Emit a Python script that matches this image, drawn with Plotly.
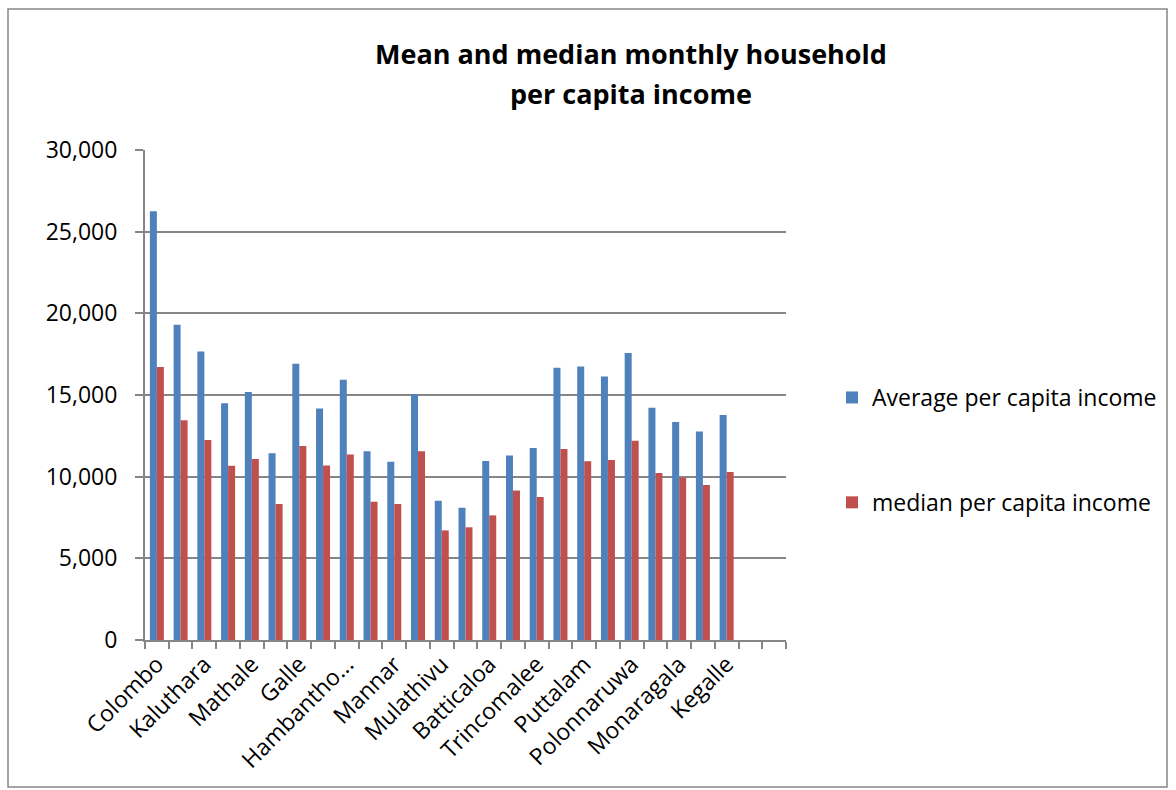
import plotly.graph_objects as go

districts = ["Colombo", "Gampaha", "Kaluthara", "Kandy", "Mathale", "Nuwara Eliya",
             "Galle", "Matara", "Hambantho...", "Jaffna", "Mannar", "Vavuniya",
             "Mulathivu", "Kilinochchi", "Batticaloa", "Ampara", "Trincomalee",
             "Kurunegala", "Puttalam", "Anuradhapura", "Polonnaruwa", "Badulla",
             "Monaragala", "Ratnapura", "Kegalle", "", ""]

average_income = [26250, 19300, 17670, 14490, 15180, 11430, 16920, 14180, 15940,
                  11550, 10920, 15060, 8530, 8100, 10960, 11290, 11760, 16670,
                  16740, 16140, 17570, 14220, 13350, 12760, 13780, None, None]

median_income = [16710, 13450, 12250, 10670, 11080, 8330, 11880, 10690, 11350,
                 8470, 8330, 11550, 6710, 6900, 7630, 9160, 8750, 11690,
                 10940, 11020, 12200, 10220, 9940, 9490, 10290, None, None]

y_ticks = [0, 5000, 10000, 15000, 20000, 25000, 30000]

BLUE = "#4F81BD"
RED = "#C0504D"
GRID = "#868686"
FONT = "Open Sans"

W, H = 1176, 790
L, R, T, B = 145, 390, 150, 150
PW, PH = W - L - R, H - T - B

def px(x):
    return (x - L) / PW

def py(y):
    return (H - B - y) / PH

xs = list(range(len(districts)))
label_idx = [i for i in xs if i % 2 == 0 and districts[i]]

fig = go.Figure()
fig.add_trace(go.Bar(x=xs, y=average_income, name="Average per capita income",
                     marker=dict(color=BLUE, line=dict(width=0)),
                     legendgroup="a"))
fig.add_trace(go.Bar(x=xs, y=median_income, name="median per capita income",
                     marker=dict(color=RED, line=dict(width=0)),
                     legendgroup="b"))

fig.update_layout(
    width=W, height=H,
    margin=dict(l=L, r=R, t=T, b=B),
    paper_bgcolor="white", plot_bgcolor="white",
    barmode="group", bargap=0.41, bargroupgap=0,
    font=dict(family=FONT, size=23, color="#000000"),
    showlegend=True,
    legend=dict(x=px(832), y=py(376), xanchor="left", yanchor="top",
                font=dict(size=23), tracegroupgap=72,
                itemwidth=30, bgcolor="rgba(0,0,0,0)"),
    xaxis=dict(range=[-0.5, len(districts) - 0.5],
               tickmode="array", tickvals=label_idx,
               ticktext=[districts[i] for i in label_idx],
               tickangle=-45, ticks="", showgrid=False, zeroline=False,
               showline=True, linecolor=GRID, linewidth=1.5,
               tickfont=dict(size=23),
               minor=dict(tickmode="linear", tick0=-0.5, dtick=1,
                          ticks="outside", ticklen=7, tickcolor=GRID,
                          tickwidth=1.5, showgrid=False)),
    yaxis=dict(range=[0, 30000], tickmode="array", tickvals=y_ticks,
               tickformat=",", ticks="outside", ticklen=8, tickcolor=GRID,
               tickwidth=1.5, showgrid=True, gridcolor=GRID, gridwidth=2,
               zeroline=False, showline=True, linecolor=GRID, linewidth=2,
               tickfont=dict(size=23), ticklabelstandoff=13),
    annotations=[
        dict(text="<b>Mean and median monthly household</b>", xref="paper", yref="paper",
             x=px(631), y=py(53), xanchor="center", yanchor="middle",
             showarrow=False, font=dict(size=27)),
        dict(text="<b>per capita income</b>", xref="paper", yref="paper",
             x=px(631), y=py(94), xanchor="center", yanchor="middle",
             showarrow=False, font=dict(size=27)),
    ],
    shapes=[dict(type="rect", xref="paper", yref="paper",
                 x0=px(8), x1=px(1167), y0=py(787), y1=py(9),
                 line=dict(color=GRID, width=1.5), layer="below")],
)

fig.write_html("out.html")
